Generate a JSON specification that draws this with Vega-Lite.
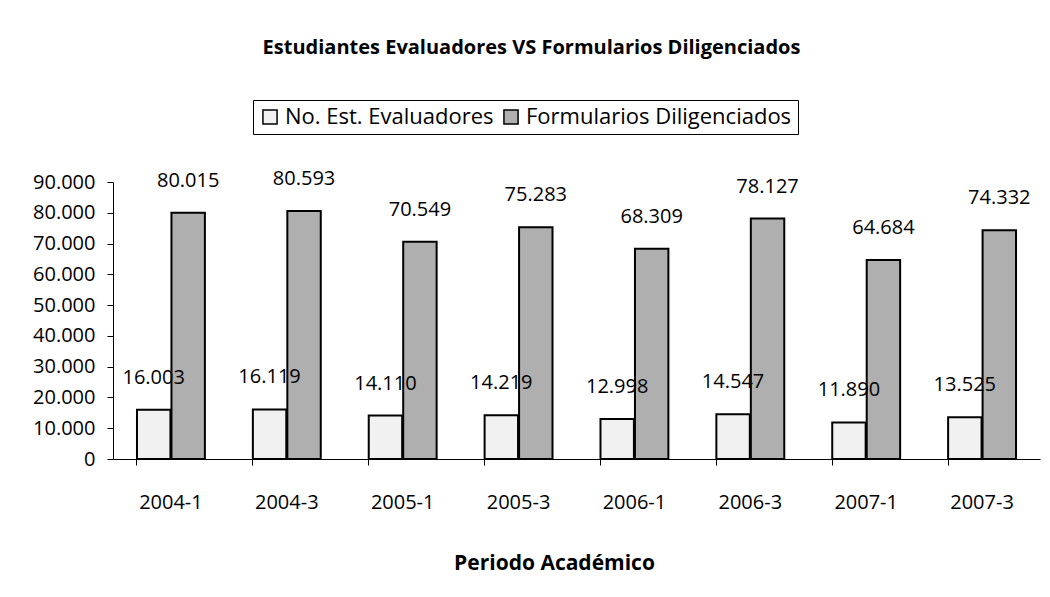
{
  "$schema": "https://vega.github.io/schema/vega-lite/v6.json",
  "autosize": "none",
  "width": 927,
  "height": 277,
  "padding": {"left": 113, "top": 182, "right": 10, "bottom": 138},
  "background": "white",
  "title": {
    "text": "Estudiantes Evaluadores VS Formularios Diligenciados",
    "font": "Open Sans",
    "fontSize": 20,
    "fontWeight": "bold",
    "color": "black",
    "anchor": "middle",
    "frame": "group",
    "offset": 42,
    "dx": -45
  },
  "data": {
    "values": [
      {"periodo": "2004-1", "serie": "No. Est. Evaluadores", "valor": 16003},
      {"periodo": "2004-1", "serie": "Formularios Diligenciados", "valor": 80015},
      {"periodo": "2004-3", "serie": "No. Est. Evaluadores", "valor": 16119},
      {"periodo": "2004-3", "serie": "Formularios Diligenciados", "valor": 80593},
      {"periodo": "2005-1", "serie": "No. Est. Evaluadores", "valor": 14110},
      {"periodo": "2005-1", "serie": "Formularios Diligenciados", "valor": 70549},
      {"periodo": "2005-3", "serie": "No. Est. Evaluadores", "valor": 14219},
      {"periodo": "2005-3", "serie": "Formularios Diligenciados", "valor": 75283},
      {"periodo": "2006-1", "serie": "No. Est. Evaluadores", "valor": 12998},
      {"periodo": "2006-1", "serie": "Formularios Diligenciados", "valor": 68309},
      {"periodo": "2006-3", "serie": "No. Est. Evaluadores", "valor": 14547},
      {"periodo": "2006-3", "serie": "Formularios Diligenciados", "valor": 78127},
      {"periodo": "2007-1", "serie": "No. Est. Evaluadores", "valor": 11890},
      {"periodo": "2007-1", "serie": "Formularios Diligenciados", "valor": 64684},
      {"periodo": "2007-3", "serie": "No. Est. Evaluadores", "valor": 13525},
      {"periodo": "2007-3", "serie": "Formularios Diligenciados", "valor": 74332}
    ]
  },
  "encoding": {
    "x": {
      "field": "periodo",
      "type": "nominal",
      "sort": null,
      "scale": {"paddingInner": 0.414, "paddingOuter": 0.207},
      "axis": {
        "title": "Periodo Académico",
        "titleFont": "Open Sans",
        "titleFontSize": 21,
        "titleFontWeight": "bold",
        "titleColor": "black",
        "titleX": 441,
        "titleY": 104,
        "titleBaseline": "middle",
        "titleAnchor": "middle",
        "labelFont": "Open Sans",
        "labelFontSize": 20,
        "labelColor": "black",
        "labelAngle": 0,
        "labelPadding": 27,
        "bandPosition": 0,
        "tickSize": 6,
        "tickColor": "black",
        "domainColor": "black",
        "grid": false
      }
    },
    "xOffset": {
      "field": "serie",
      "type": "nominal",
      "sort": ["No. Est. Evaluadores", "Formularios Diligenciados"],
      "scale": {"paddingInner": 0.03}
    },
    "y": {
      "field": "valor",
      "type": "quantitative",
      "scale": {"domain": [0, 90000], "nice": false},
      "axis": {
        "title": null,
        "values": [0, 10000, 20000, 30000, 40000, 50000, 60000, 70000, 80000, 90000],
        "format": ",d",
        "labelFont": "Open Sans",
        "labelFontSize": 20,
        "labelColor": "black",
        "labelPadding": 12,
        "tickSize": 6,
        "tickColor": "black",
        "domainColor": "black",
        "grid": false
      }
    }
  },
  "layer": [
    {
      "mark": {"type": "bar", "stroke": "black", "strokeWidth": 2},
      "encoding": {
        "color": {
          "field": "serie",
          "type": "nominal",
          "sort": ["No. Est. Evaluadores", "Formularios Diligenciados"],
          "scale": {"range": ["#f1f1f1", "#afafaf"]},
          "legend": {
            "title": null,
            "orient": "none",
            "direction": "horizontal",
            "legendX": 140,
            "legendY": -82,
            "strokeColor": "black",
            "fillColor": "white",
            "padding": 6,
            "labelFont": "Open Sans",
            "labelFontSize": 22,
            "labelColor": "black",
            "labelLimit": 600,
            "symbolType": "square",
            "symbolSize": 200,
            "symbolStrokeColor": "black",
            "symbolStrokeWidth": 1.5,
            "columnPadding": 6,
            "labelOffset": 4
          }
        }
      }
    },
    {
      "mark": {"type": "text", "font": "Open Sans", "fontSize": 20, "color": "black", "baseline": "middle", "dy": -32},
      "encoding": {
        "text": {"field": "valor", "type": "quantitative", "format": ",d"}
      }
    }
  ],
  "config": {
    "view": {"stroke": null},
    "locale": {
      "number": {"decimal": ",", "thousands": ".", "grouping": [3], "currency": ["$", ""]}
    }
  }
}
